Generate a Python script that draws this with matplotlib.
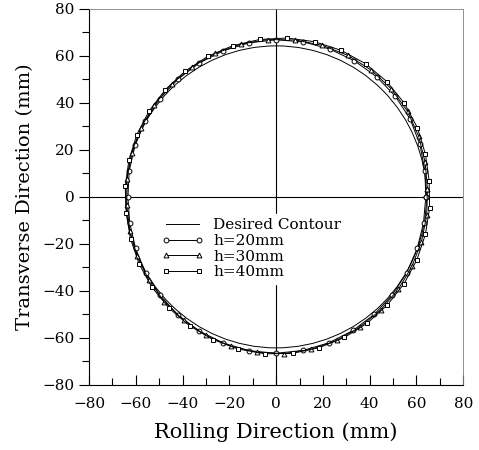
import numpy as np
import matplotlib.pyplot as plt
from matplotlib.patches import Circle

plt.rcParams['font.family'] = ['DejaVu Serif']

# measured contours: angle (deg, ccw from +x) and radius (mm) of each measured point
ang_h20 = [0, 10, 20, 30, 40, 50, 60, 70, 80, 90, 100, 110,
           120, 130, 140, 150, 160, 170, 180, 190, 200, 210, 220, 230,
           240, 250, 260, 270, 280, 290, 300, 310, 320, 330, 340, 350]
r_h20 = [64.0, 64.6, 65.4, 66.2, 66.6, 66.8, 66.9, 67.0, 67.0, 66.9, 66.6, 66.2,
         65.8, 65.4, 65.0, 64.6, 64.2, 63.8, 63.4, 63.6, 64.0, 64.5, 65.0, 65.5,
         65.9, 66.2, 66.5, 66.6, 66.4, 66.1, 65.7, 65.3, 64.9, 64.5, 64.2, 64.0]
ang_h30 = [3, 13, 23, 33, 43, 53, 63, 73, 83, 93, 103, 113,
           123, 133, 143, 153, 163, 173, 183, 193, 203, 213, 223, 233,
           243, 253, 263, 273, 283, 293, 303, 313, 323, 333, 343, 353]
r_h30 = [64.8, 65.4, 66.2, 67.0, 67.4, 67.6, 67.6, 67.5, 67.3, 67.1, 66.8, 66.4,
         66.0, 65.6, 65.2, 64.9, 64.6, 64.2, 64.0, 64.2, 64.6, 65.0, 65.4, 65.8,
         66.2, 66.5, 66.7, 66.8, 66.6, 66.4, 66.0, 65.7, 65.4, 65.2, 65.0, 64.9]
ang_h40 = [6, 16, 26, 36, 46, 56, 66, 76, 86, 96, 106, 116,
           126, 136, 146, 156, 166, 176, 186, 196, 206, 216, 226, 236,
           246, 256, 266, 276, 286, 296, 306, 316, 326, 336, 346, 356]
r_h40 = [65.8, 66.4, 67.2, 67.8, 68.2, 68.4, 68.3, 68.1, 67.8, 67.4, 67.0, 66.6,
         66.2, 65.8, 65.5, 65.2, 64.9, 64.7, 64.5, 64.8, 65.2, 65.6, 65.9, 66.2,
         66.5, 66.8, 67.0, 67.0, 66.8, 66.6, 66.4, 66.2, 66.0, 65.9, 65.8, 65.8]
desired_r = 64.3

series = [("h=20mm", ang_h20, r_h20, "o"),
          ("h=30mm", ang_h30, r_h30, "^"),
          ("h=40mm", ang_h40, r_h40, "s")]

fig = plt.figure(figsize=(4.79, 4.5), dpi=100)
ax = fig.add_axes([0.186, 0.145, 0.781, 0.835])

ax.axhline(0, color='black', lw=0.8, zorder=1)
ax.axvline(0, color='black', lw=0.8, zorder=1)

ax.add_patch(Circle((0, 0), desired_r, fill=False, color='black', lw=0.7, zorder=2))
ax.plot([], [], color='black', lw=0.7, label='Desired Contour')

for lab, a, r, m in series:
    th = np.radians(a + [a[0]])
    rr = np.array(r + [r[0]])
    ax.plot(rr * np.cos(th), rr * np.sin(th), color='black', lw=0.7,
            marker=m, ms=3.5, mfc='white', mec='black', mew=0.7,
            label=lab, zorder=3)

ax.set_xlim(-80, 80)
ax.set_ylim(-80, 80)
ax.set_xticks(range(-80, 81, 20))
ax.set_yticks(range(-80, 81, 20))
ax.set_xticks(range(-70, 80, 20), minor=True)
ax.set_yticks(range(-70, 80, 20), minor=True)
ax.tick_params(axis='x', direction='in', length=7, width=0.8, labelsize=11, pad=9)
ax.tick_params(axis='x', which='minor', direction='in', length=5, width=0.8)
ax.tick_params(axis='y', direction='out', length=7, width=0.8, labelsize=11)
ax.tick_params(axis='y', which='minor', direction='out', length=5, width=0.8)
for s in ['top', 'right']:
    ax.spines[s].set_color('0.5')
    ax.spines[s].set_linewidth(0.6)

ax.set_xlabel('Rolling Direction (mm)', fontsize=15, labelpad=8)
ax.set_ylabel('Transverse Direction (mm)', fontsize=14, labelpad=6)

leg = ax.legend(loc='upper left', bbox_to_anchor=(0.16, 0.475), numpoints=2,
                fontsize=11, handlelength=2.8, handletextpad=0.6,
                labelspacing=0.1, borderpad=0.3, fancybox=False)
leg.get_frame().set_edgecolor('white')
leg.get_frame().set_alpha(1)

fig.savefig('out.png', dpi=100)
